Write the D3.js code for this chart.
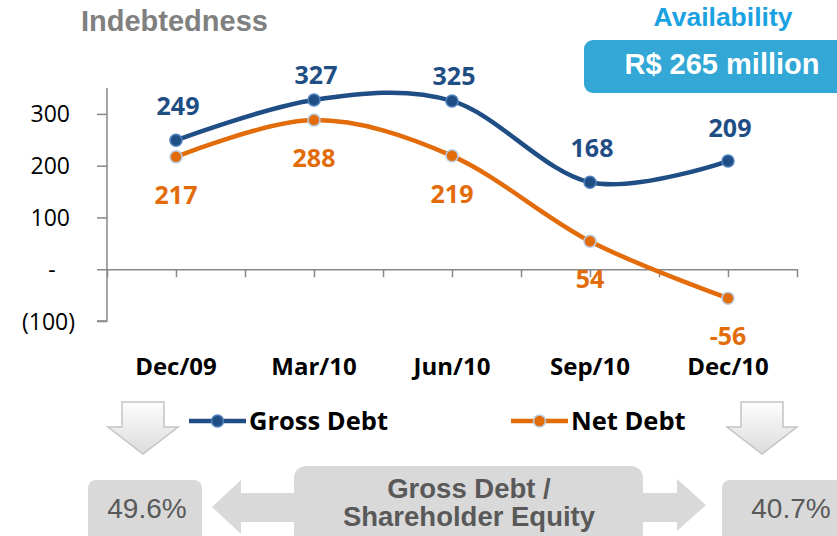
<!DOCTYPE html>
<html>
<head>
<meta charset="utf-8">
<script src="https://cdn.jsdelivr.net/npm/d3@7"></script>
<style>
  body { margin: 0; background: #fff; }
  svg { display: block; }
</style>
</head>
<body>
<script>
// data
const periods = ["Dec/09", "Mar/10", "Jun/10", "Sep/10", "Dec/10"];
const grossDebt = [249, 327, 325, 168, 209];
const netDebt = [217, 288, 219, 54, -56];
const yTicks = [-100, 0, 100, 200, 300];
const ratioStart = "49.6%";
const ratioEnd = "40.7%";
const availability = "R$ 265 million";

// layout
const width = 837;
const height = 536;
const grossLabelDy = [-25, -16, -16, -25, -24];
const netLabelDy = 47;
const blue = "#1F4E85";
const orange = "#E36C0A";
const axisGray = "#888";
const chartFont = "'Open Sans', sans-serif";

const svg = d3.select("body").append("svg")
  .attr("width", width)
  .attr("height", height);

const defs = svg.append("defs");
const grad = defs.append("linearGradient")
  .attr("id", "arrowGrad")
  .attr("x1", 0).attr("y1", 0).attr("x2", 0).attr("y2", 1);
grad.append("stop").attr("offset", "0%").attr("stop-color", "#fdfdfd");
grad.append("stop").attr("offset", "100%").attr("stop-color", "#dcdcdc");

const xScale = d3.scaleLinear().domain([-0.5, 4.5]).range([107, 797]);
const yScale = d3.scaleLinear().domain([-100, 350]).range([321, 88]);

// headings
svg.append("text")
  .attr("x", 81).attr("y", 31)
  .attr("font-family", "Liberation Sans, Arial, sans-serif")
  .attr("font-weight", "bold")
  .attr("font-size", 29)
  .attr("fill", "#808080")
  .text("Indebtedness");

svg.append("text")
  .attr("x", 723).attr("y", 26)
  .attr("text-anchor", "middle")
  .attr("font-family", "Liberation Sans, Arial, sans-serif")
  .attr("font-weight", "bold")
  .attr("font-size", 26.5)
  .attr("fill", "#1AA1E1")
  .text("Availability");

svg.append("rect")
  .attr("x", 584).attr("y", 40)
  .attr("width", 270).attr("height", 53)
  .attr("rx", 9)
  .attr("fill", "#33A7D5");

svg.append("text")
  .attr("x", 722).attr("y", 74)
  .attr("text-anchor", "middle")
  .attr("font-family", "Liberation Sans, Arial, sans-serif")
  .attr("font-weight", "bold")
  .attr("font-size", 29)
  .attr("fill", "#fff")
  .text(availability);

// y axis
const yAxis = d3.axisLeft(yScale)
  .tickValues(yTicks)
  .tickSize(10)
  .tickPadding(27)
  .tickFormat((d) => (d === 0 ? "-" : d < 0 ? `(${-d})` : d));

const yG = svg.append("g")
  .attr("transform", `translate(${xScale(-0.5)},0)`)
  .call(yAxis);
yG.select(".domain").attr("stroke", axisGray).attr("stroke-width", 1.5)
  .attr("d", `M-10,${yScale(-100)}H0V${yScale(350)}`);
yG.selectAll(".tick line").attr("stroke", axisGray).attr("stroke-width", 1.5);
yG.selectAll(".tick text")
  .attr("font-family", chartFont)
  .attr("font-size", 23)
  .attr("fill", "#000")
  .attr("dy", "0.35em");
yG.selectAll(".tick text").filter((d) => d === 0).attr("x", -55).attr("text-anchor", "middle");
yG.selectAll(".tick text").filter((d) => d < 0).attr("x", -32);

// x axis
const xAxis = d3.axisBottom(xScale)
  .tickValues(d3.range(-0.5, 4.51, 0.5))
  .tickSize(8)
  .tickSizeOuter(0)
  .tickFormat("");

const xG = svg.append("g")
  .attr("transform", `translate(0,${yScale(0)})`)
  .call(xAxis);
xG.select(".domain").attr("stroke", axisGray).attr("stroke-width", 1.5);
xG.selectAll(".tick line").attr("stroke", axisGray).attr("stroke-width", 1.5);

svg.selectAll(".cat")
  .data(periods)
  .join("text")
  .attr("class", "cat")
  .attr("x", (d, i) => xScale(i))
  .attr("y", 375)
  .attr("text-anchor", "middle")
  .attr("font-family", chartFont)
  .attr("font-weight", "bold")
  .attr("font-size", 24)
  .attr("fill", "#000")
  .text((d) => d);

// lines
const line = d3.line()
  .x((d, i) => xScale(i))
  .y((d) => yScale(d))
  .curve(d3.curveCardinal.tension(0));

const series = [
  { name: "Gross Debt", values: grossDebt, color: blue, mark: "#4F81BD" },
  { name: "Net Debt", values: netDebt, color: orange, mark: "#B9CDE5" }
];

series.forEach((s) => {
  svg.append("path")
    .datum(s.values)
    .attr("fill", "none")
    .attr("stroke", s.color)
    .attr("stroke-width", 4.5)
    .attr("d", line);
  svg.append("g")
    .selectAll("circle")
    .data(s.values)
    .join("circle")
    .attr("cx", (d, i) => xScale(i))
    .attr("cy", (d) => yScale(d))
    .attr("r", 6)
    .attr("fill", s.color)
    .attr("stroke", s.mark)
    .attr("stroke-width", 1.5);
});

// data labels
svg.append("g")
  .selectAll("text")
  .data(grossDebt)
  .join("text")
  .attr("x", (d, i) => xScale(i) + 2)
  .attr("y", (d, i) => yScale(d) + grossLabelDy[i])
  .attr("text-anchor", "middle")
  .attr("font-family", chartFont)
  .attr("font-weight", "bold")
  .attr("font-size", 25)
  .attr("fill", blue)
  .text((d) => d);

svg.append("g")
  .selectAll("text")
  .data(netDebt)
  .join("text")
  .attr("x", (d, i) => xScale(i))
  .attr("y", (d) => yScale(d) + netLabelDy)
  .attr("text-anchor", "middle")
  .attr("font-family", chartFont)
  .attr("font-weight", "bold")
  .attr("font-size", 25)
  .attr("fill", orange)
  .text((d) => d);

// legend
const legendX = [189, 511];
series.forEach((s, i) => {
  const g = svg.append("g").attr("transform", `translate(${legendX[i]},421)`);
  g.append("line")
    .attr("x1", 0).attr("x2", 57)
    .attr("stroke", s.color)
    .attr("stroke-width", 4.5);
  g.append("circle")
    .attr("cx", 28.5).attr("r", 6)
    .attr("fill", s.color)
    .attr("stroke", s.mark)
    .attr("stroke-width", 1.5);
  g.append("text")
    .attr("x", 60).attr("y", 9)
    .attr("font-family", chartFont)
    .attr("font-weight", "bold")
    .attr("font-size", 25.5)
    .attr("fill", "#000")
    .text(s.name);
});

// down arrows
[143, 762].forEach((cx) => {
  svg.append("path")
    .attr("d", `M${cx - 21},402H${cx + 21}V427H${cx + 35}L${cx},454L${cx - 35},427H${cx - 21}Z`)
    .attr("fill", "url(#arrowGrad)")
    .attr("stroke", "#c4c4c4")
    .attr("stroke-width", 1.5);
});

// ratio panel
const panelFill = "#D9D9D9";
const panelText = "#595959";

svg.append("path")
  .attr("d", "M212,507L241,480V493H300V522H241V534Z")
  .attr("fill", panelFill);
svg.append("path")
  .attr("d", "M706,505L677,479V493H630V522H677V531Z")
  .attr("fill", panelFill);

svg.append("rect")
  .attr("x", 88).attr("y", 480).attr("width", 114).attr("height", 70)
  .attr("rx", 8).attr("fill", panelFill);
svg.append("rect")
  .attr("x", 722).attr("y", 480).attr("width", 120).attr("height", 70)
  .attr("rx", 8).attr("fill", panelFill);
svg.append("rect")
  .attr("x", 294).attr("y", 466).attr("width", 349).attr("height", 90)
  .attr("rx", 12).attr("fill", panelFill);

const ratioFont = "Liberation Sans, Arial, sans-serif";
svg.append("text")
  .attr("x", 147).attr("y", 518)
  .attr("text-anchor", "middle")
  .attr("font-family", ratioFont)
  .attr("font-size", 28)
  .attr("fill", panelText)
  .text(ratioStart);
svg.append("text")
  .attr("x", 791).attr("y", 518)
  .attr("text-anchor", "middle")
  .attr("font-family", ratioFont)
  .attr("font-size", 28)
  .attr("fill", panelText)
  .text(ratioEnd);

svg.append("text")
  .attr("x", 469).attr("y", 498)
  .attr("text-anchor", "middle")
  .attr("font-family", ratioFont)
  .attr("font-weight", "bold")
  .attr("font-size", 27.5)
  .attr("fill", panelText)
  .text("Gross Debt /");
svg.append("text")
  .attr("x", 469).attr("y", 526)
  .attr("text-anchor", "middle")
  .attr("font-family", ratioFont)
  .attr("font-weight", "bold")
  .attr("font-size", 27.5)
  .attr("fill", panelText)
  .text("Shareholder Equity");
</script>
</body>
</html>
